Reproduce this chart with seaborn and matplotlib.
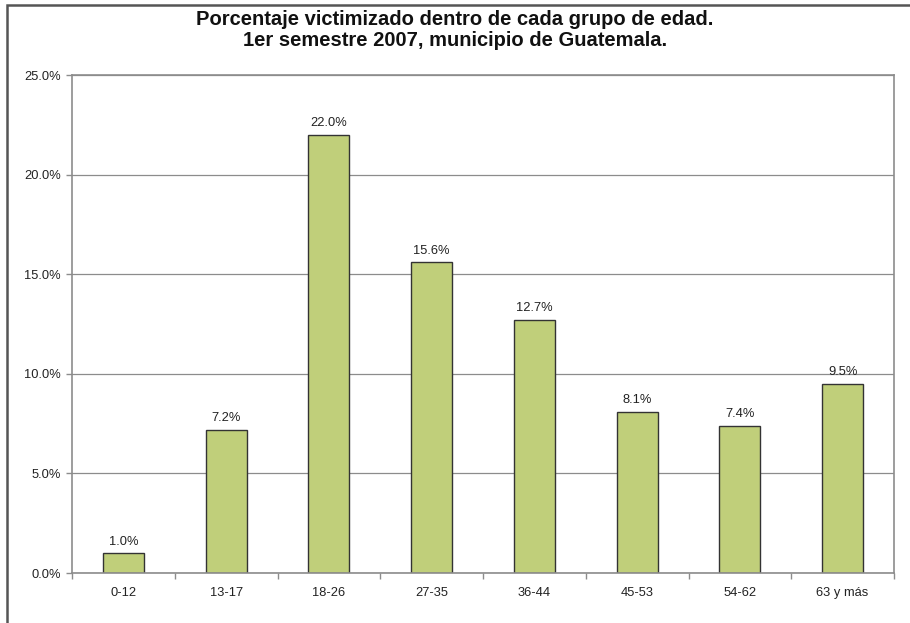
import pandas as pd
import matplotlib.pyplot as plt
import seaborn as sns
from matplotlib.patches import Rectangle
from matplotlib.ticker import FuncFormatter, FixedLocator

# Data
grupos = ['0-12', '13-17', '18-26', '27-35', '36-44', '45-53', '54-62', '63 y más']
porcentajes = [1.0, 7.2, 22.0, 15.6, 12.7, 8.1, 7.4, 9.5]
y_ticks = [0, 5, 10, 15, 20, 25]

df = pd.DataFrame({'grupo': grupos, 'pct': porcentajes})

sns.set_style('white')
plt.rcParams['font.family'] = ['Liberation Sans', 'DejaVu Sans']

fig = plt.figure(figsize=(9.1, 6.23), dpi=100)
ax = fig.add_axes([72 / 910, 1 - 573 / 623, (894 - 72) / 910, (573 - 75) / 623])

sns.barplot(data=df, x='grupo', y='pct', color='#C0CF7A', width=0.4,
            edgecolor='#333333', linewidth=1, saturation=1, ax=ax)

ax.set_ylim(0, 25)
ax.set_xlim(-0.5, len(grupos) - 0.5)
ax.set_yticks(y_ticks)
ax.yaxis.set_major_formatter(FuncFormatter(lambda v, p: f'{v:.1f}%'))
ax.yaxis.grid(True, color='#8c8c8c', linewidth=0.9)
ax.set_axisbelow(True)

ax.xaxis.set_minor_locator(FixedLocator([i - 0.5 for i in range(len(grupos) + 1)]))
ax.tick_params(axis='x', which='major', length=0, pad=10, labelsize=9.3, colors='#222222')
ax.tick_params(axis='x', which='minor', length=4, color='#8c8c8c', width=1, bottom=True)
ax.tick_params(axis='y', length=4, color='#8c8c8c', width=1, labelsize=9.3,
               labelcolor='#222222', left=True, pad=4)
for s in ax.spines.values():
    s.set_color('#8c8c8c')
    s.set_linewidth(1.2)

ax.set_xlabel('')
ax.set_ylabel('')

for c in ax.containers:
    ax.bar_label(c, labels=[f'{v:.1f}%' for v in porcentajes], padding=4,
                 fontsize=9.3, color='#222222')

fig.text(0.5, 1 - 30 / 623,
         'Porcentaje victimizado dentro de cada grupo de edad.\n1er semestre 2007, municipio de Guatemala.',
         ha='center', va='center', fontsize=14.5, fontweight='bold', linespacing=1.15,
         color='#111111')

# outer chart frame (runs off the right and bottom edges)
fig.patches.append(Rectangle((7 / 910, -0.05), 1.0, 1 - 5 / 623 + 0.05,
                             transform=fig.transFigure, fill=False,
                             edgecolor='#555555', linewidth=1.8))

fig.savefig('out.png', dpi=100)
plt.close()
